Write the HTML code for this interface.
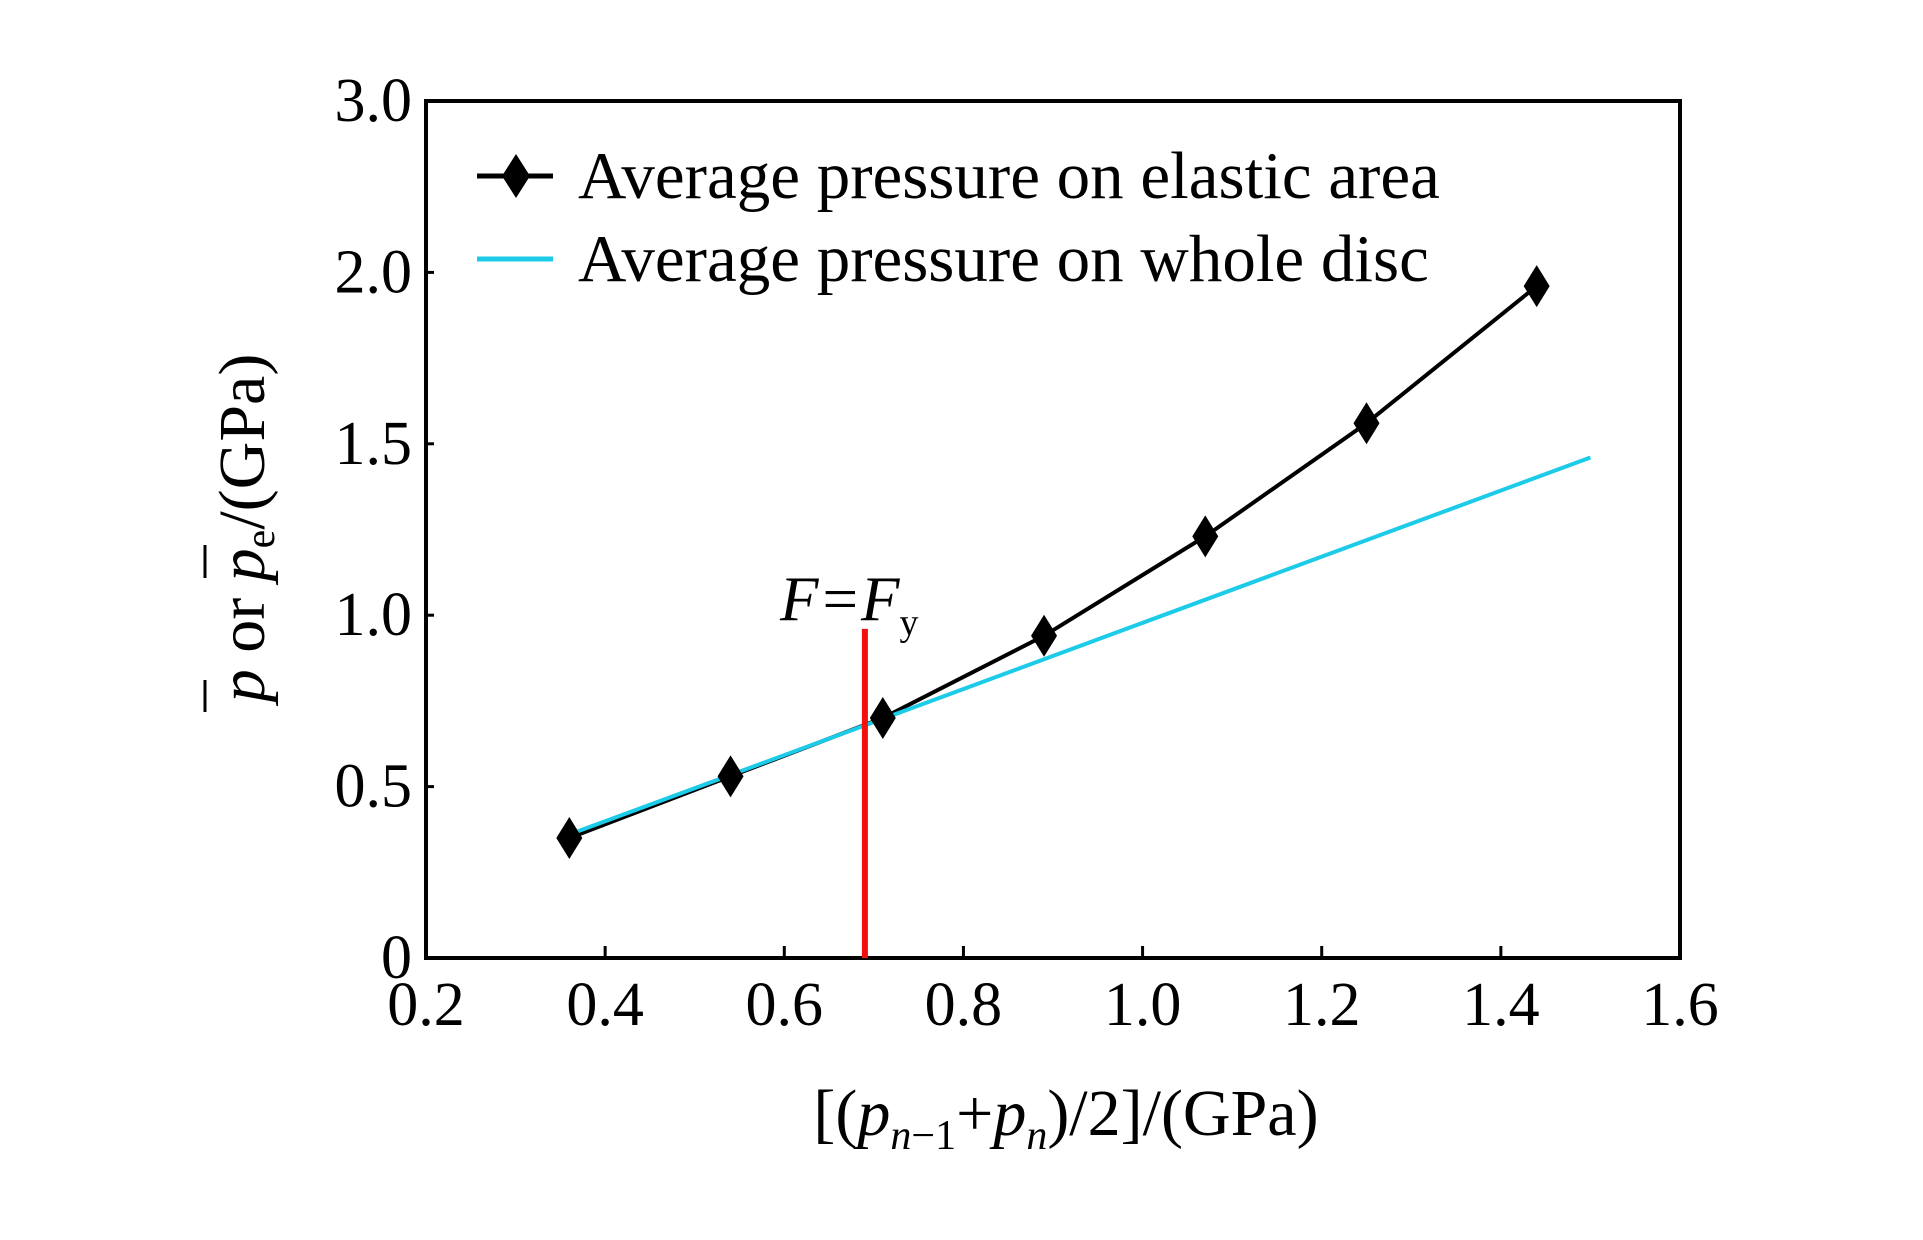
<!DOCTYPE html>
<html><head><meta charset="utf-8"><style>
body{margin:0;background:#fff}
svg text{font-family:"Liberation Serif",serif;fill:#000}
</style></head><body>
<svg id="chart" width="1923" height="1235" viewBox="0 0 1923 1235">
<g id="marks"></g>
</svg>
<script>
const xTicks=[0.2,0.4,0.6,0.8,1.0,1.2,1.4,1.6];
const xTickLabels=["0.2","0.4","0.6","0.8","1.0","1.2","1.4","1.6"];
const yTicks=[0,0.5,1.0,1.5,2.0,2.5];
const yTickLabels=["0","0.5","1.0","1.5","2.0","3.0"];
const elasticX=[0.36,0.54,0.71,0.89,1.07,1.25,1.44];
const elasticY=[0.35,0.53,0.70,0.94,1.23,1.56,1.96];
const discX=[0.37,1.50];
const discY=[0.37,1.46];
const yieldX=0.69;
const yieldTop=0.96;

const L=426,R=1680,T=101,B=958;
const sx=v=>L+(v-0.2)/1.4*(R-L);
const sy=v=>B-v/2.5*(B-T);
const NS="http://www.w3.org/2000/svg";
const g=document.getElementById('marks');
function mk(tag,attrs,parent){const e=document.createElementNS(NS,tag);for(const k in attrs)e.setAttribute(k,attrs[k]);(parent||g).appendChild(e);return e;}

let fr=mk('rect',{x:L,y:T,width:R-L,height:B-T,fill:'none',stroke:'#000','stroke-width':4});



xTicks.forEach((v,i)=>{
  const t=mk('line',{x1:sx(v),x2:sx(v),y1:B,y2:B-12,stroke:'#000','stroke-width':3});
  
  
  const tx=mk('text',{x:sx(v),y:1025,'text-anchor':'middle','font-size':62});
  tx.textContent=xTickLabels[i];
  
  
});
yTicks.forEach((v,i)=>{
  const t=mk('line',{x1:L,x2:L+8,y1:sy(v),y2:sy(v),stroke:'#000','stroke-width':3});
  
  
  const tx=mk('text',{x:412,y:sy(v)+20,'text-anchor':'end','font-size':62});
  tx.textContent=yTickLabels[i];
  
  
});

const el=mk('polyline',{points:elasticX.map((x,i)=>sx(x)+','+sy(elasticY[i])).join(' '),fill:'none',stroke:'#000','stroke-width':4});


const dl=mk('polyline',{points:discX.map((x,i)=>sx(x)+','+sy(discY[i])).join(' '),fill:'none',stroke:'#1ccbe8','stroke-width':4});


elasticX.forEach((x,i)=>{
  const cx=sx(x),cy=sy(elasticY[i]);
  const p=mk('polygon',{points:`${cx},${cy-21} ${cx+13},${cy} ${cx},${cy+21} ${cx-13},${cy}`,fill:'#000'});
  
  
});

const rl=mk('line',{x1:sx(yieldX),x2:sx(yieldX),y1:B,y2:sy(yieldTop),stroke:'#f01010','stroke-width':6});


</script>
<svg style="position:absolute;left:0;top:0" width="1923" height="1235">
<text x="780" y="620" font-size="63" font-style="italic">F=F<tspan font-style="normal" font-size="38" dy="15">y</tspan></text>
<g>
<line x1="477" y1="176" x2="553" y2="176" stroke="#000" stroke-width="5"/>
<polygon points="516,154 530,176 516,198 502,176" fill="#000"/>
<text x="578" y="198" font-size="67">Average pressure on elastic area</text>
<line x1="477" y1="259" x2="553" y2="259" stroke="#1ccbe8" stroke-width="5"/>
<text x="578" y="281" font-size="67">Average pressure on whole disc</text>
</g>
<text x="1066" y="1135" font-size="66" text-anchor="middle">[(<tspan font-style="italic">p</tspan><tspan font-size="42" dy="14" font-style="italic">n</tspan><tspan font-size="42">−1</tspan><tspan dy="-14">+</tspan><tspan font-style="italic">p</tspan><tspan font-size="42" dy="14" font-style="italic">n</tspan><tspan dy="-14">)/2]/(GPa)</tspan></text>
<g transform="translate(264,528) rotate(-90)">
<text x="0" y="0" font-size="66" text-anchor="middle"><tspan font-style="italic">p</tspan> or <tspan font-style="italic">p</tspan><tspan font-size="42" dy="10">e</tspan><tspan dy="-10">/(GPa)</tspan></text>
</g>
<line x1="205" y1="680" x2="205" y2="712" stroke="#000" stroke-width="3"/>
<line x1="205" y1="545" x2="205" y2="578" stroke="#000" stroke-width="3"/>
</svg>
</body></html>
